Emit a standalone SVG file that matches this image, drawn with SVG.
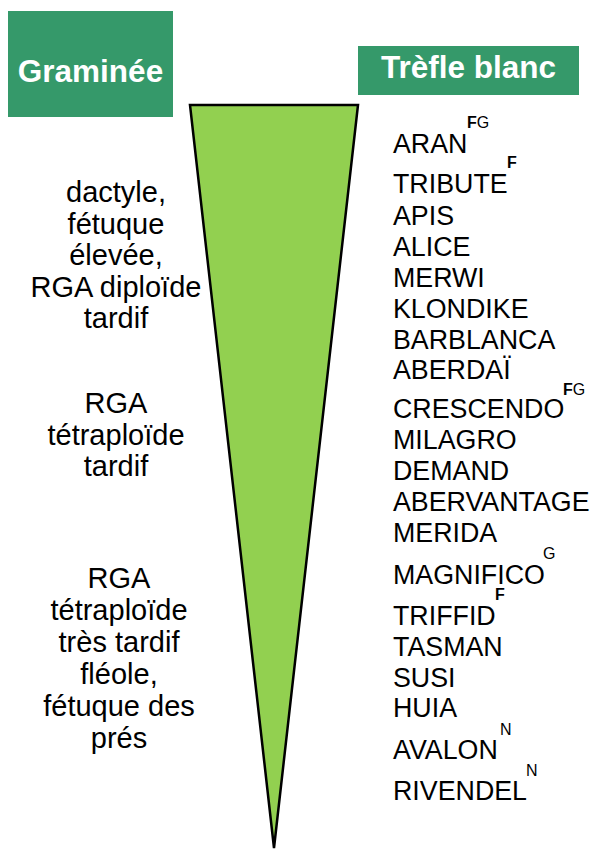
<svg xmlns="http://www.w3.org/2000/svg" width="590" height="850" viewBox="0 0 590 850">
<style>
.hdr{fill:#35996A}
.ht{font-family:"Liberation Sans",Arial,sans-serif;font-weight:bold;fill:#fff;font-size:31.5px;text-anchor:middle}
.lt{font-family:"Liberation Sans",Arial,sans-serif;font-size:29px;fill:#000;text-anchor:middle}
.rt{font-family:"Liberation Sans",Arial,sans-serif;font-size:26.8px;fill:#000}
.sup{font-family:"Liberation Sans",Arial,sans-serif;font-size:16px;fill:#000}
.b{font-weight:bold}
</style>
<rect width="590" height="850" fill="#fff"/>
<g id="graminee">
<rect class="hdr" x="8" y="11" width="165" height="106"/>
<text class="ht" x="90.5" y="82">Graminée</text>
</g>
<g id="trefle">
<rect class="hdr" x="358" y="46" width="221" height="49"/>
<text class="ht" x="468.5" y="78">Trèfle blanc</text>
</g>
<g id="wedge">
<polygon points="190,105 358,105 274,848" fill="#92D050" stroke="#000" stroke-width="2.5" stroke-linejoin="miter"/>
</g>
<g id="grasses">
<text class="lt"><tspan x="116" y="202">dactyle,</tspan><tspan x="116" y="234">fétuque</tspan><tspan x="116" y="265">élevée,</tspan><tspan x="116" y="297">RGA diploïde</tspan><tspan x="116" y="328">tardif</tspan></text>
<text class="lt"><tspan x="116" y="413">RGA</tspan><tspan x="116" y="445">tétraploïde</tspan><tspan x="116" y="476">tardif</tspan></text>
<text class="lt"><tspan x="119" y="588">RGA</tspan><tspan x="119" y="620">tétraploïde</tspan><tspan x="119" y="652">très tardif</tspan><tspan x="119" y="684">fléole,</tspan><tspan x="119" y="716">fétuque des</tspan><tspan x="119" y="748">prés</tspan></text>
</g>
<g id="clovers">
<text class="rt" x="393" y="153">ARAN</text>
<text class="sup" x="467" y="128"><tspan class="b">F</tspan>G</text>
<text class="rt" x="393" y="193">TRIBUTE</text>
<text class="sup b" x="507" y="168">F</text>
<text class="rt" x="393" y="225">APIS</text>
<text class="rt" x="393" y="256">ALICE</text>
<text class="rt" x="393" y="287">MERWI</text>
<text class="rt" x="393" y="318">KLONDIKE</text>
<text class="rt" x="393" y="349">BARBLANCA</text>
<text class="rt" x="393" y="379">ABERDAÏ</text>
<text class="rt" x="393" y="418">CRESCENDO</text>
<text class="sup" x="563" y="395"><tspan class="b">F</tspan>G</text>
<text class="rt" x="393" y="449">MILAGRO</text>
<text class="rt" x="393" y="480">DEMAND</text>
<text class="rt" x="393" y="511">ABERVANTAGE</text>
<text class="rt" x="393" y="542">MERIDA</text>
<text class="rt" x="393" y="584">MAGNIFICO</text>
<text class="sup" x="543" y="559">G</text>
<text class="rt" x="393" y="625">TRIFFID</text>
<text class="sup b" x="495" y="600">F</text>
<text class="rt" x="393" y="656">TASMAN</text>
<text class="rt" x="393" y="687">SUSI</text>
<text class="rt" x="393" y="717">HUIA</text>
<text class="rt" x="393" y="759">AVALON</text>
<text class="sup" x="500" y="735">N</text>
<text class="rt" x="393" y="800">RIVENDEL</text>
<text class="sup" x="526" y="776">N</text>
</g>
</svg>
